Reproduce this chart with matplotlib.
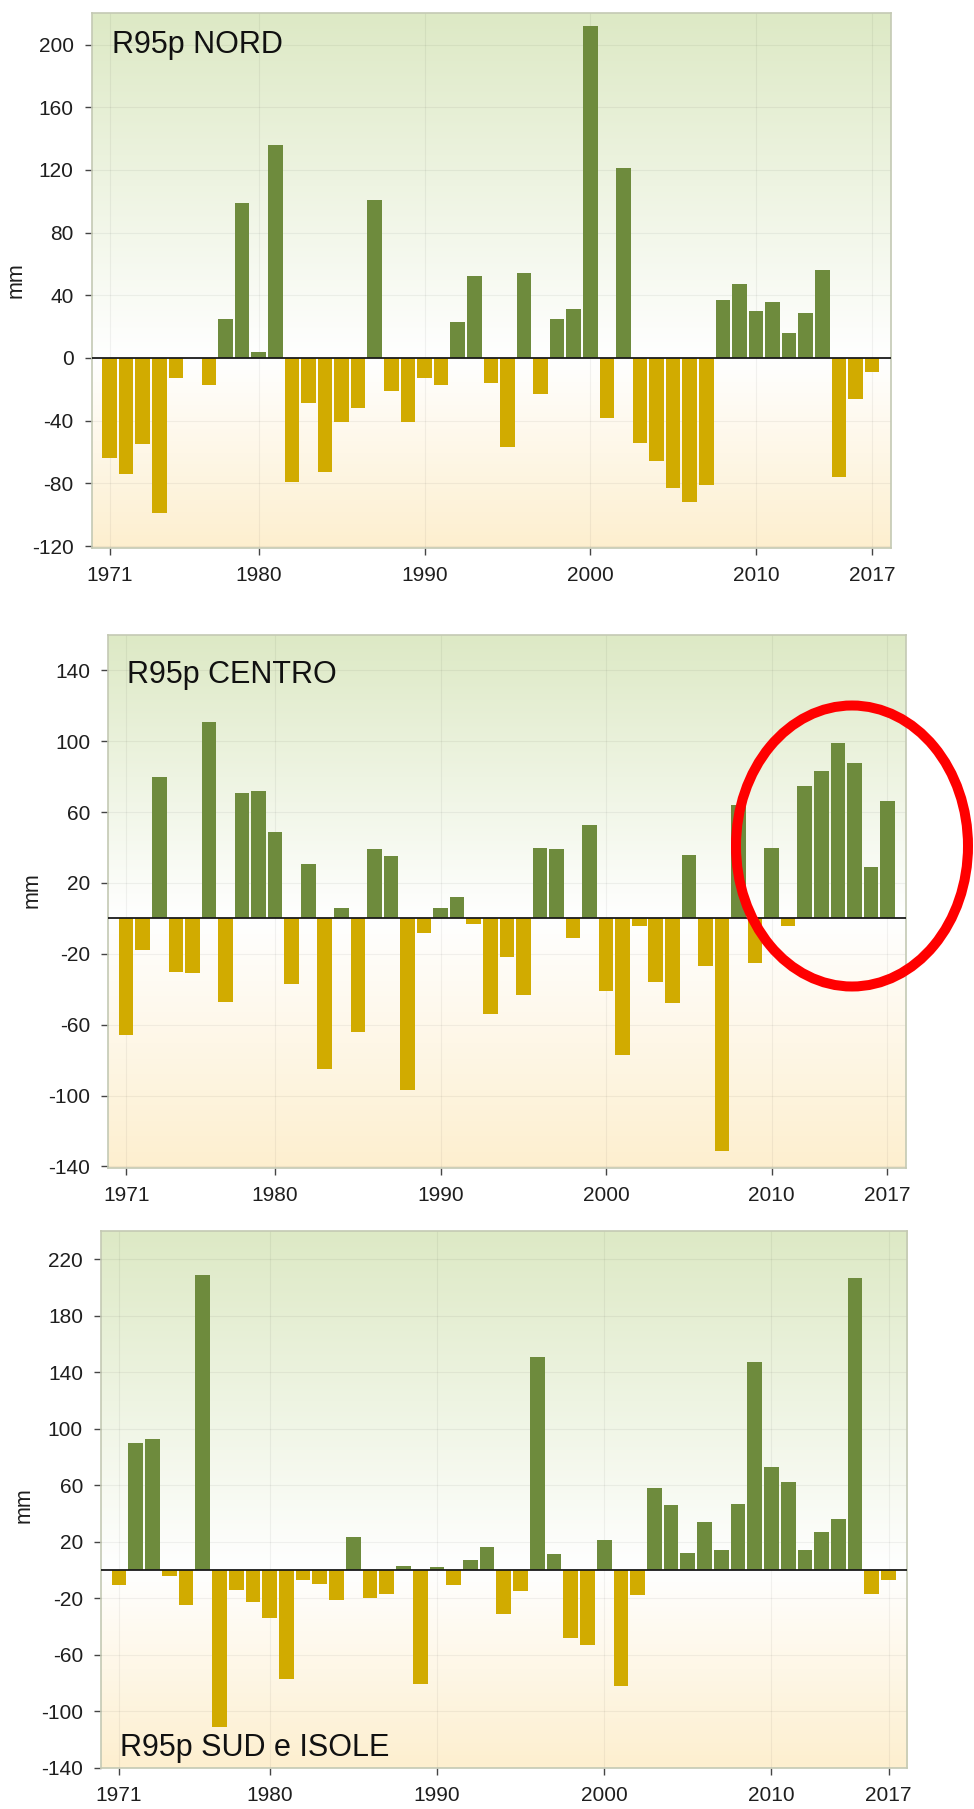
import numpy as np
import matplotlib
matplotlib.use("Agg")
import matplotlib.pyplot as plt
from matplotlib.colors import to_rgb
from matplotlib.patches import Ellipse

plt.rcParams["font.family"] = ["Liberation Sans", "DejaVu Sans"]
plt.rcParams["axes.unicode_minus"] = False

years = list(range(1971, 2018))

nord = [-64, -74, -55, -99, -13, 0, -17, 25, 99, 4,
        136, -79, -29, -73, -41, -32, 101, -21, -41, -13,
        -17, 23, 52, -16, -57, 54, -23, 25, 31, 212,
        -38, 121, -54, -66, -83, -92, -81, 37, 47, 30,
        36, 16, 29, 56, -76, -26, -9]

centro = [-66, -18, 80, -30, -31, 111, -47, 71, 72, 49,
          -37, 31, -85, 6, -64, 39, 35, -97, -8, 6,
          12, -3, -54, -22, -43, 40, 39, -11, 53, -41,
          -77, -4, -36, -48, 36, -27, -131, 64, -25, 40,
          -4, 75, 83, 99, 88, 29, 66]

sud = [-11, 90, 93, -4, -25, 209, -111, -14, -23, -34,
       -77, -7, -10, -21, 23, -20, -17, 3, -81, 2,
       -11, 7, 16, -31, -15, 151, 11, -48, -53, 21,
       -82, -18, 58, 46, 12, 34, 14, 47, 147, 73,
       62, 14, 27, 36, 207, -17, -7]

panel_titles = ["R95p NORD", "R95p CENTRO", "R95p SUD e ISOLE"]
year_ticks = [1971, 1980, 1990, 2000, 2010, 2017]

GREEN = "#6e8b3d"
YELLOW = "#d1ab00"
BG_TOP = "#dde9c5"
BG_BOTTOM = "#fdefcf"

fig = plt.figure(figsize=(9.74, 18.09), dpi=100)

# axes rectangles (figure fractions) and per-panel settings
panels = [
    dict(rect=[0.0941, 0.6973, 0.8203, 0.2954], data=nord, ylim=(-121, 220),
         yticks=np.arange(-120, 201, 40), title_xy=(0.025, 0.925), label_y=0.50),
    dict(rect=[0.1112, 0.3546, 0.8190, 0.2944], data=centro, ylim=(-140.6, 160),
         yticks=np.arange(-140, 141, 40), title_xy=(0.024, 0.91), label_y=0.52),
    dict(rect=[0.1037, 0.0227, 0.8278, 0.2967], data=sud, ylim=(-140.3, 240),
         yticks=np.arange(-140, 221, 40), title_xy=(0.024, 0.022), label_y=0.49),
]


def gradient_background(ax, ylim):
    ys = np.linspace(ylim[1], ylim[0], 400)
    top = np.array(to_rgb(BG_TOP))
    bot = np.array(to_rgb(BG_BOTTOM))
    white = np.ones(3)
    img = np.zeros((len(ys), 1, 3))
    for i, y in enumerate(ys):
        if y >= 0:
            t = y / ylim[1]
            img[i, 0] = white + (top - white) * t
        else:
            t = y / ylim[0]
            img[i, 0] = white + (bot - white) * t
    ax.imshow(img, extent=[1969.92, 2018.12, ylim[0], ylim[1]], aspect="auto",
              zorder=0, interpolation="bilinear")


for p, title in zip(panels, panel_titles):
    ax = fig.add_axes(p["rect"])
    vals = p["data"]
    gradient_background(ax, p["ylim"])
    colors = [GREEN if v >= 0 else YELLOW for v in vals]
    ax.bar(years, vals, width=0.88, color=colors, zorder=3, linewidth=0)
    ax.axhline(0, color="#1a1a1a", lw=1.3, zorder=4)

    ax.set_xlim(1969.92, 2018.12)
    ax.set_ylim(*p["ylim"])
    ax.set_xticks(year_ticks)
    ax.set_yticks(p["yticks"])
    ax.grid(True, color="#000000", alpha=0.05, lw=0.8, zorder=1)
    ax.set_axisbelow(True)

    for s in ax.spines.values():
        s.set_color("#c4c9b4")
        s.set_linewidth(1.2)

    ax.tick_params(axis="both", labelsize=15, colors="#444444", labelcolor="#1e1e1e",
                   length=5, width=1.0, pad=8)
    ax.set_ylabel("mm", fontsize=15.5, color="#1e1e1e")
    ax.yaxis.set_label_coords(-0.082, p["label_y"])

    ax.text(p["title_xy"][0], p["title_xy"][1], title, transform=ax.transAxes,
            fontsize=22, color="#111111", va="baseline", ha="left", zorder=5)

# red highlight ellipse around the last years of CENTRO
ell = Ellipse((852 / 974, 1 - 846 / 1809), 232 / 974, 281 / 1809,
              transform=fig.transFigure, fill=False, edgecolor="#ff0000",
              linewidth=7.2, clip_on=False, zorder=10)
fig.patches.append(ell)

fig.savefig("out.png", dpi=100)
